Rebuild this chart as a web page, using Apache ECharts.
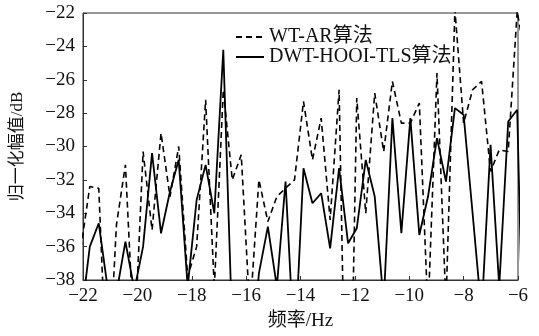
<!DOCTYPE html>
<html>
<head>
<meta charset="utf-8">
<script src="https://cdn.jsdelivr.net/npm/echarts@6/dist/echarts.min.js"></script>
<style>html,body{margin:0;padding:0;background:#fff}#c{width:539px;height:336px}</style>
</head>
<body>
<div id="c"></div>
<script>
var freqs = [-22.08,-21.75,-21.42,-21.10,-20.77,-20.44,-20.11,-19.79,-19.46,-19.13,-18.80,-18.48,-18.15,-17.82,-17.49,-17.17,-16.84,-16.51,-16.18,-15.86,-15.53,-15.20,-14.87,-14.55,-14.22,-13.89,-13.56,-13.24,-12.91,-12.58,-12.25,-11.93,-11.60,-11.27,-10.94,-10.62,-10.29,-9.96,-9.63,-9.31,-8.98,-8.65,-8.32,-8.00,-7.67,-7.34,-7.01,-6.69,-6.36,-6.03,-5.70];
var wtAR = [-36.1,-32.4,-32.5,-45,-34.7,-31.1,-42,-30.3,-35.0,-29.2,-33.0,-30.0,-37.8,-36.0,-27.2,-38.5,-26.6,-32.0,-30.5,-40,-32.0,-34.5,-33.0,-32.5,-32.0,-27.3,-30.8,-28.3,-34.4,-26.6,-55,-27.1,-34.0,-26.8,-30.3,-26.1,-28.6,-28.6,-27.4,-40,-25.6,-39.5,-21.8,-28.6,-26.6,-26.1,-31.5,-30.2,-30.3,-21.9,-25];
var dwtHooiTls = [-40.4,-36.0,-34.6,-38.4,-38.8,-35.7,-38.6,-36.0,-30.4,-35.2,-32.7,-30.8,-38.4,-33.2,-31.1,-34.0,-24.2,-41,-40,-44,-37.6,-34.8,-38.4,-32.1,-42.5,-31.3,-33.4,-32.8,-36.1,-31.3,-35.8,-34.9,-30.8,-33.0,-39.4,-28.3,-35.2,-28.3,-35.3,-33.0,-29.5,-32.1,-27.7,-28.1,-34.0,-40,-29.9,-38.4,-28.5,-27.8,-50];
var seriesNames = ['WT-AR算法', 'DWT-HOOI-TLS算法'];
var xTitle = '频率/Hz';
var yTitle = '归一化幅值/dB';

function pairs(xs, ys){ return xs.map(function(x,i){ return [x, ys[i]]; }); }
var FONT = "'Liberation Serif', 'Noto Sans CJK SC', serif";
function minus(v){ return String(v).replace('-', '\u2212'); }

var chart = echarts.init(document.getElementById('c'), null, {renderer:'canvas'});
chart.setOption({
  animation: false,
  backgroundColor: '#fff',
  grid: { left: 83, right: 21, top: 13, bottom: 56, show: true, borderColor: '#333', borderWidth: 1, containLabel: false, outerBoundsMode: 'none' },
  legend: {
    data: seriesNames, orient: 'vertical', left: 230, top: 22, itemGap: 0,
    itemWidth: 28, itemHeight: 14,
    itemStyle: { color: 'transparent', borderColor: 'transparent', borderWidth: 0 },
    textStyle: { fontFamily: FONT, fontSize: 20, color: '#111' }
  },
  xAxis: {
    type: 'value', min: -22, max: -6, interval: 2,
    name: xTitle, nameLocation: 'middle', nameGap: 32,
    nameTextStyle: { fontFamily: FONT, fontSize: 19, color: '#111' },
    axisLine: { lineStyle: { color: '#333', width: 1 } },
    axisTick: { inside: true, length: 4, lineStyle: { color: '#333' } },
    axisLabel: { fontFamily: FONT, fontSize: 19, color: '#111', margin: 7, formatter: minus },
    splitLine: { show: false }
  },
  yAxis: {
    type: 'value', min: -38, max: -22, interval: 2,
    name: yTitle, nameLocation: 'middle', nameGap: 57, nameRotate: 90,
    nameTextStyle: { fontFamily: FONT, fontSize: 17, color: '#111' },
    axisLine: { show: true, lineStyle: { color: '#333', width: 1 } },
    axisTick: { show: true, inside: true, length: 4, lineStyle: { color: '#333' } },
    axisLabel: { fontFamily: FONT, fontSize: 19, color: '#111', margin: 8, formatter: minus },
    splitLine: { show: false }
  },
  series: [
    { name: seriesNames[0], type: 'line', data: pairs(freqs, wtAR), symbol: 'none', clip: true,
      lineStyle: { color: '#000', width: 1.6, type: [6, 4] }, itemStyle: { color: '#000' } },
    { name: seriesNames[1], type: 'line', data: pairs(freqs, dwtHooiTls), symbol: 'none', clip: true,
      lineStyle: { color: '#000', width: 1.8, type: 'solid' }, itemStyle: { color: '#000' } }
  ]
});
</script>
</body>
</html>
